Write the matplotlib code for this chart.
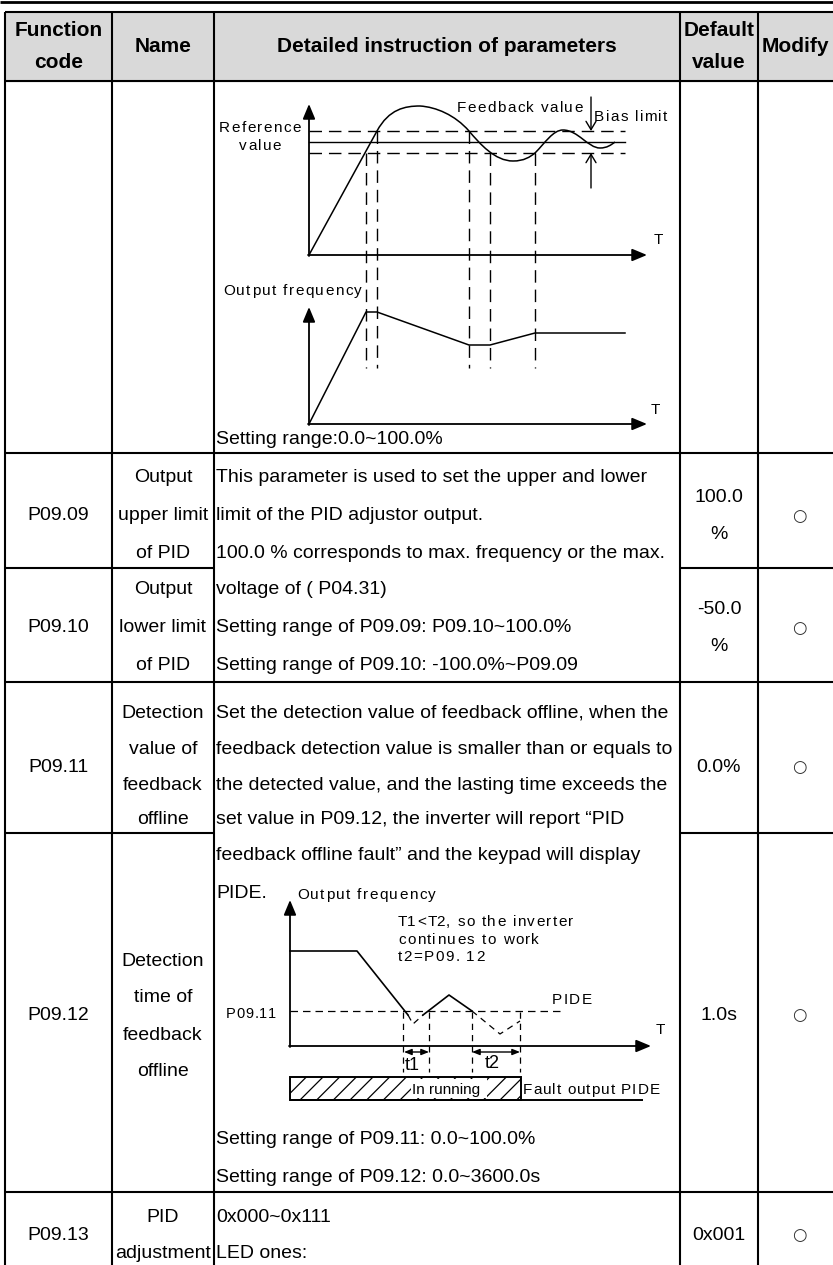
import matplotlib
matplotlib.use("Agg")
import matplotlib.pyplot as plt
from matplotlib.path import Path
from matplotlib.patches import PathPatch, Rectangle

plt.rcParams['font.family'] = ['Liberation Sans', 'DejaVu Sans']
plt.rcParams['hatch.linewidth'] = 0.9

# ---- table content ----
HEADER = ["Function\ncode", "Name", "Detailed instruction of parameters", "Default\nvalue", "Modify"]
CODES = ["P09.09", "P09.10", "P09.11", "P09.12", "P09.13"]
NAMES = [["Output", "upper limit", "of PID"],
         ["Output", "lower limit", "of PID"],
         ["Detection", "value of", "feedback", "offline"],
         ["Detection", "time of", "feedback", "offline"],
         ["PID", "adjustment"]]
DEFAULTS = [["100.0", "%"], ["-50.0", "%"], ["0.0%"], ["1.0s"], ["0x001"]]
MODIFY = ["○", "○", "○", "○", "○"]
DETAIL = ["Setting range:0.0~100.0%",
          "This parameter is used to set the upper and lower",
          "limit of the PID adjustor output.",
          "100.0 % corresponds to max. frequency or the max.",
          "voltage of ( P04.31)",
          "Setting range of P09.09: P09.10~100.0%",
          "Setting range of P09.10: -100.0%~P09.09",
          "Set the detection value of feedback offline, when the",
          "feedback detection value is smaller than or equals to",
          "the detected value, and the lasting time exceeds the",
          "set value in P09.12, the inverter will report \u201cPID",
          "feedback offline fault\u201d and the keypad will display",
          "PIDE.",
          "Setting range of P09.11: 0.0~100.0%",
          "Setting range of P09.12: 0.0~3600.0s",
          "0x000~0x111",
          "LED ones:"]

# ---- diagram 1 (PID feedback / output frequency) ----
BAND_Y = [131, 142, 153]            # upper bias, reference, lower bias
BAND_STYLE = ['dashed', 'solid', 'dashed']
FB_VERTS = [(309, 255), (377, 131),
            (389, 109), (405, 106), (420, 106),
            (436, 107), (455, 115), (469, 131),
            (480, 144), (495, 161), (513, 161),
            (524, 161), (530, 157), (535, 153),
            (545, 143), (553, 130), (563, 130),
            (578, 130), (588, 148), (600, 148),
            (607, 148), (611, 145), (615, 142)]
OUT_X = [309, 366, 377, 469, 490, 535, 625]
OUT_Y = [424, 312, 312, 345, 345, 333, 333]
GUIDE_X = [366, 377, 469, 490, 535]
GUIDE_TOP = [153, 131, 131, 153, 153]

# ---- diagram 2 (feedback offline) ----
FREQ_SOLID = [[(290, 951), (357, 951), (408, 1015)],
              [(423, 1015), (449, 995), (472, 1011)]]
FREQ_DASHED = [[(408, 1015), (413, 1024), (423, 1015)],
               [(472, 1011), (500, 1034), (520, 1021)]]
MARK_X = [403, 429, 472, 520]

W, H = 833, 1265
fig = plt.figure(figsize=(W / 100, H / 100), dpi=100)
ax = fig.add_axes([0, 0, 1, 1])
ax.set_xlim(0, W)
ax.set_ylim(H, 0)
ax.axis('off')
renderer = fig.canvas.get_renderer()

BODY = 14
DIA = 11
LW = 1.5
COLS = [5, 112, 214, 680, 758, 833]


def hline(y, x0, x1, lw=LW, **kw):
    ax.plot([x0, x1], [y, y], color='black', lw=lw, solid_capstyle='butt', **kw)


def vline(x, y0, y1, lw=LW, **kw):
    ax.plot([x, x], [y0, y1], color='black', lw=lw, solid_capstyle='butt', **kw)


def txt(x, y, s, size=BODY, ha='left', **kw):
    ax.text(x, y, s, fontsize=size, ha=ha, va='center', **kw)


def _w(s, size):
    t = ax.text(0, 0, s, fontsize=size)
    w = t.get_window_extent(renderer).width
    t.remove()
    return w


def spaced(x, y, s, size=DIA, gap=1.4, ha='left'):
    # diagram labels in the manual are drawn with loose letter spacing
    base = _w("aa", size)
    widths = [_w("a" + ch + "a", size) - base for ch in s]
    total = sum(widths) + gap * (len(s) - 1)
    if ha == 'center':
        x -= total / 2
    elif ha == 'right':
        x -= total
    for ch, w in zip(s, widths):
        if ch != ' ':
            ax.text(x, y, ch, fontsize=size, ha='left', va='center')
        x += w + gap


def arrow(start, tip, style='-|>,head_length=0.6,head_width=0.25', scale=15, lw=1.3):
    ax.annotate('', xy=tip, xytext=start,
                arrowprops=dict(arrowstyle=style, color='black', lw=lw,
                                mutation_scale=scale, shrinkA=0, shrinkB=0))


# ---- table frame ----
hline(1.5, 0, W, lw=2)
ax.add_patch(Rectangle((COLS[0], 12), W - COLS[0], 69, color='#d9d9d9', zorder=0))
hline(12, COLS[0], W)
hline(81, COLS[0], W)
for x in COLS[:-1]:
    vline(x, 12, H)
hline(453, COLS[0], W)
hline(568, COLS[0], COLS[2])
hline(568, COLS[3], W)
hline(682, COLS[0], W)
hline(833, COLS[0], COLS[2])
hline(833, COLS[3], W)
hline(1192, COLS[0], W)

# header
centers = [(COLS[i] + COLS[i + 1]) / 2 for i in range(5)]
for c, h in zip(centers, HEADER):
    lines = h.split("\n")
    ys = [30, 63] if len(lines) == 2 else [46]
    for yy, s in zip(ys, lines):
        txt(c, yy, s, size=15, ha='center', fontweight='bold')

# body rows
ROW_MID = [516, 628, 767, 1015, 1235]
NAME_Y = [[478, 516, 553], [590, 628, 665], [713, 749, 785, 820],
          [962, 998, 1035, 1072], [1217, 1253]]
for i in range(5):
    txt(centers[0], ROW_MID[i], CODES[i], ha='center')
    for yy, s in zip(NAME_Y[i], NAMES[i]):
        txt(centers[1], yy, s, ha='center')
    d = DEFAULTS[i]
    ys = [ROW_MID[i] - 18.5, ROW_MID[i] + 18.5] if len(d) == 2 else [ROW_MID[i]]
    for yy, s in zip(ys, d):
        txt(centers[3], yy, s, ha='center')
    txt(799, ROW_MID[i], MODIFY[i], size=12, ha='center', family='DejaVu Sans',
        color='#333333')

DETAIL_Y = [440, 478, 516, 553, 590, 628, 665, 713, 749, 785, 820, 855, 893,
            1140, 1177, 1217, 1253]
for yy, s in zip(DETAIL_Y, DETAIL):
    txt(216, yy, s)

# ---- diagram 1 ----
spaced(260, 128, "Reference", ha='center')
spaced(260, 146, "value", ha='center')
arrow((309, 256), (309, 104))
arrow((308, 255), (647, 255))
spaced(657, 240, "T", ha='center')
for y, ls in zip(BAND_Y, BAND_STYLE):
    ax.plot([309, 625], [y, y], color='black', lw=1.0,
            linestyle=(0, (9, 5)) if ls == 'dashed' else '-')
codes = [Path.MOVETO, Path.LINETO] + [Path.CURVE4] * (len(FB_VERTS) - 2)
ax.add_patch(PathPatch(Path(FB_VERTS, codes), fill=False, lw=1.1, edgecolor='black'))
spaced(457, 108, "Feedback value")
arrow((591, 97), (591, 131), style='->,head_length=0.5,head_width=0.3', scale=12, lw=1.0)
arrow((591, 188), (591, 153), style='->,head_length=0.5,head_width=0.3', scale=12, lw=1.0)
spaced(594, 117, "Bias limit")
for x, top in zip(GUIDE_X, GUIDE_TOP):
    ax.plot([x, x], [top, 368], color='black', lw=1.0, linestyle=(0, (9, 5)))

spaced(223, 291, "Output frequency")
arrow((309, 425), (309, 307))
arrow((308, 424), (647, 424))
spaced(654, 410, "T", ha='center')
ax.plot(OUT_X, OUT_Y, color='black', lw=1.1)

# ---- diagram 2 ----
arrow((290, 1047), (290, 900))
arrow((289, 1046), (651, 1046))
spaced(659, 1030, "T", ha='center')
spaced(297, 895, "Output frequency")
spaced(398, 922, "T1<T2, so the inverter")
spaced(398, 940, "continues to work")
spaced(398, 957, "t2=P09. 12")
ax.plot([290, 563], [1011, 1011], color='black', lw=0.9, linestyle=(0, (6, 4)))
spaced(276, 1014, "P09.11", size=DIA - 0.5, gap=0.8, ha='right')
spaced(552, 1000, "PIDE")
for seg in FREQ_SOLID:
    xs, ys = zip(*seg)
    ax.plot(xs, ys, color='black', lw=1.2)
for seg in FREQ_DASHED:
    xs, ys = zip(*seg)
    ax.plot(xs, ys, color='black', lw=0.9, linestyle=(0, (5, 4)))
for x in MARK_X:
    ax.plot([x, x], [1012, 1072], color='black', lw=0.9, linestyle=(0, (5, 4)))
arrow((404, 1052), (429, 1052), style='<|-|>,head_length=0.5,head_width=0.2', scale=9, lw=1.0)
arrow((472, 1052), (520, 1052), style='<|-|>,head_length=0.5,head_width=0.2', scale=9, lw=1.0)
txt(412, 1065, "t1", size=13, ha='center')
txt(492, 1063, "t2", size=13, ha='center')
ax.add_patch(Rectangle((290, 1077), 231, 23, fill=False, hatch='//', edgecolor='black', lw=1.4))
hline(1100, 290, 643, lw=1.4)
ax.add_patch(Rectangle((411, 1079), 76, 19, facecolor='white', edgecolor='none', zorder=2))
ax.text(412, 1090, "In running", fontsize=DIA, va='center', zorder=3)
spaced(523, 1090, "Fault output PIDE", gap=1.0)

fig.savefig("out.png", dpi=100)
